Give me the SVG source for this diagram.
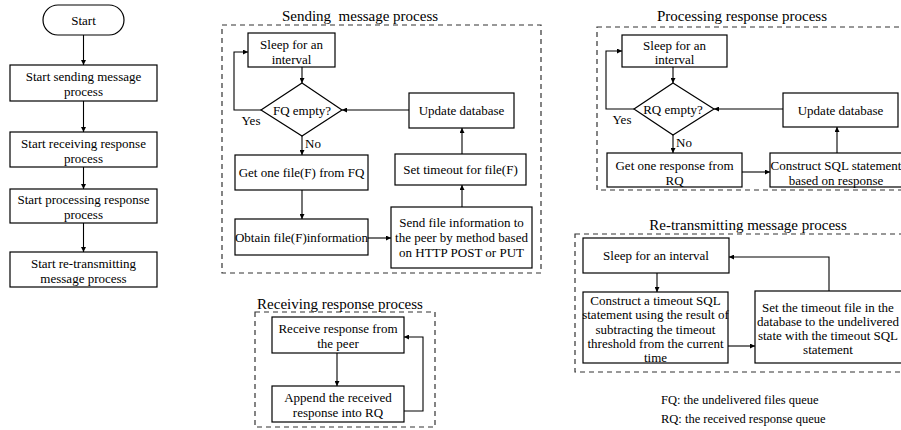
<svg xmlns="http://www.w3.org/2000/svg" width="901" height="430" viewBox="0 0 901 430" font-family="'Liberation Serif','Times New Roman',serif">
<style>
text{font-family:"Liberation Serif","Times New Roman",serif;font-size:13px;fill:#000;text-anchor:middle;dominant-baseline:central}
text.t{font-size:15px}
text.lg{font-size:12.5px;text-anchor:start}
text.l{text-anchor:start}
.b{fill:#fff;stroke:#000;stroke-width:1.2}
.d{fill:none;stroke:#333;stroke-width:1.2;stroke-dasharray:5,4}
.c{fill:none;stroke:#000;stroke-width:1.1;marker-end:url(#a)}
</style>
<defs>
<marker id="a" viewBox="0 0 8 8" refX="8" refY="4" markerWidth="5" markerHeight="5" orient="auto" markerUnits="userSpaceOnUse"><path d="M0,0L8,4L0,8z" fill="#000"/></marker>
</defs>
<rect width="901" height="430" fill="#fff"/>

<g id="frames">
<rect class="d" x="222" y="25" width="319" height="248"/>
<text class="t" x="360" y="16" xml:space="preserve">Sending  message process</text>
<rect class="d" x="255" y="312" width="180" height="115"/>
<text class="t" x="340" y="304">Receiving response process</text>
<rect class="d" x="597" y="27" width="310" height="163"/>
<text class="t" x="742" y="16">Processing response process</text>
<rect class="d" x="575" y="234" width="332" height="138"/>
<text class="t" x="748" y="225">Re-transmitting message process</text>
</g>

<g id="start"><rect class="b" x="43" y="5" width="81" height="30" rx="15"/><text x="83.5" y="20">Start</text></g>
<g id="s1"><rect class="b" x="10" y="65" width="147" height="36"/><text x="83.5" y="76">Start sending message</text><text x="83.5" y="91">process</text></g>
<g id="s2"><rect class="b" x="10" y="132" width="147" height="35"/><text x="83.5" y="143">Start receiving response</text><text x="83.5" y="158">process</text></g>
<g id="s3"><rect class="b" x="10" y="189" width="147" height="34"/><text x="83.5" y="199">Start processing response</text><text x="83.5" y="214">process</text></g>
<g id="s4"><rect class="b" x="10" y="252" width="147" height="35"/><text x="83.5" y="263">Start re-transmitting</text><text x="83.5" y="278">message process</text></g>

<g id="snd-sleep"><rect class="b" x="248" y="33" width="87" height="34"/><text x="291.5" y="44">Sleep for an</text><text x="291.5" y="59">interval</text></g>
<g id="snd-fq"><polygon class="b" points="302,83 342,110 302,136 261,110"/><text x="302" y="110">FQ empty?</text></g>
<g id="snd-update"><rect class="b" x="409" y="93" width="105" height="35"/><text x="461.5" y="110.5">Update database</text></g>
<g id="snd-get"><rect class="b" x="235" y="155" width="133" height="35"/><text x="301.5" y="172.5">Get one file(F) from FQ</text></g>
<g id="snd-obtain"><rect class="b" x="235" y="219" width="133" height="36"/><text x="301.5" y="237">Obtain file(F)information</text></g>
<g id="snd-settimeout"><rect class="b" x="395" y="154" width="131" height="31"/><text x="460.5" y="169.5">Set timeout for file(F)</text></g>
<g id="snd-send"><rect class="b" x="391" y="207" width="141" height="61"/><text x="461.5" y="222">Send file information to</text><text x="461.5" y="237">the peer by method based</text><text x="461.5" y="252">on HTTP POST or PUT</text></g>

<g id="rcv-receive"><rect class="b" x="272" y="317" width="132" height="36"/><text x="338" y="328.5">Receive response from</text><text x="338" y="343.5">the peer</text></g>
<g id="rcv-append"><rect class="b" x="272" y="386" width="132" height="36"/><text x="338" y="397.5">Append the received</text><text x="338" y="412.5">response into RQ</text></g>

<g id="prc-sleep"><rect class="b" x="622" y="35" width="105" height="32"/><text x="674.5" y="45">Sleep for an</text><text x="674.5" y="59">interval</text></g>
<g id="prc-rq"><polygon class="b" points="673,83 714,109 673,135 634,109"/><text x="673" y="109">RQ empty?</text></g>
<g id="prc-update"><rect class="b" x="783" y="93" width="115" height="34"/><text x="840.5" y="110">Update database</text></g>
<g id="prc-get"><rect class="b" x="607" y="153" width="135" height="34"/><text x="674.5" y="165">Get one response from</text><text x="674.5" y="180">RQ</text></g>
<g id="prc-construct"><rect class="b" x="770" y="153" width="136" height="34"/><text x="836" y="165">Construct SQL statement</text><text x="836" y="180">based on response</text></g>

<g id="rtx-sleep"><rect class="b" x="583" y="238" width="146" height="35"/><text x="656" y="255.5">Sleep for an interval</text></g>
<g id="rtx-construct"><rect class="b" x="583" y="292" width="145" height="71"/><text x="655.5" y="300">Construct a timeout SQL</text><text x="655.5" y="314.5">statement using the result of</text><text x="655.5" y="329">subtracting the timeout</text><text x="655.5" y="343.5">threshold from the current</text><text x="655.5" y="357.5">time</text></g>
<g id="rtx-set"><rect class="b" x="755" y="291" width="150" height="72"/><text x="828" y="307.5">Set the timeout file in the</text><text x="828" y="321.5">database to the undelivered</text><text x="828" y="335.5">state with the timeout SQL</text><text x="828" y="349.5">statement</text></g>

<g id="labels">
<text x="251" y="120">Yes</text>
<text class="l" x="305" y="143">No</text>
<text x="622" y="119">Yes</text>
<text class="l" x="676" y="142">No</text>
<text class="lg" x="661" y="400">FQ: the undelivered files queue</text>
<text class="lg" x="661" y="419">RQ: the received response queue</text>
</g>

<g id="connectors">
<path class="c" d="M83.5,35V65"/>
<path class="c" d="M83.5,101V132"/>
<path class="c" d="M83.5,167V189"/>
<path class="c" d="M83.5,223V252"/>

<path class="c" d="M302,67V83"/>
<path class="c" d="M261,110H234V52H248"/>
<path class="c" d="M409,110H342"/>
<path class="c" d="M302,136V155"/>
<path class="c" d="M302,190V219"/>
<path class="c" d="M368,238H391"/>
<path class="c" d="M462,207V185"/>
<path class="c" d="M462,154V128"/>

<path class="c" d="M337,353V386"/>
<path class="c" d="M404,411H423V337H404"/>

<path class="c" d="M673,67V83"/>
<path class="c" d="M634,109H606V51H622"/>
<path class="c" d="M783,109H714"/>
<path class="c" d="M673,135V153"/>
<path class="c" d="M742,172H770"/>
<path class="c" d="M837,153V127"/>

<path class="c" d="M657,273V292"/>
<path class="c" d="M728,346H755"/>
<path class="c" d="M829,291V257H729"/>
</g>
</svg>
